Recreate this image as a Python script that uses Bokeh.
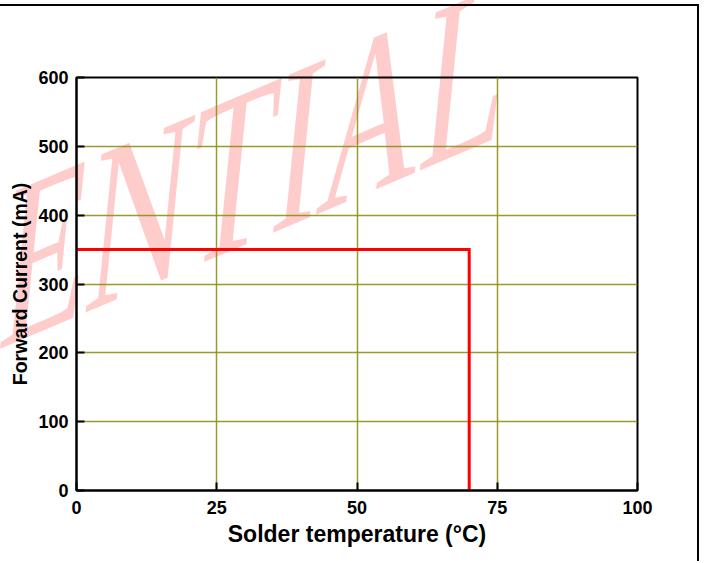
from bokeh.plotting import figure
from bokeh.models import Range1d, FixedTicker, Div
from bokeh.embed import file_html
from bokeh.resources import INLINE

# Data
solder_temp = [0, 70, 70]          # deg C
forward_current = [350, 350, 0]    # mA
x_ticks = [0, 25, 50, 75, 100]
y_ticks = [0, 100, 200, 300, 400, 500, 600]
watermark = "CONFIDENTIAL"

FONT = "Liberation Sans"

p = figure(width=699, height=557, output_backend="svg", toolbar_location=None,
           x_range=Range1d(0, 100), y_range=Range1d(0, 600),
           x_axis_label="Solder temperature (°C)",
           y_axis_label="Forward Current (mA)")

# outer frame of the page: top and right rule
p.styles = {"margin-top": "4px", "border-top": "2px solid black",
            "border-right": "2px solid black", "position": "relative"}

p.min_border_left = 76
p.min_border_right = 62
p.min_border_top = 71
p.min_border_bottom = 73
p.border_fill_color = None
p.background_fill_color = None
p.outline_line_color = "black"
p.outline_line_width = 2

# watermark (stretched serif lettering, rising to the right), behind the chart
wm = Div(text=watermark, styles={
    "position": "absolute", "left": "-505px", "top": "364px", "z-index": "-1",
    "font-family": "Liberation Serif", "font-size": "140px", "line-height": "1",
    "white-space": "nowrap", "color": "rgba(255,0,0,0.2)",
    "transform-origin": "0 0",
    "transform": "skewY(-23deg) skewX(-6deg) scaleY(1.65)",
    "pointer-events": "none"})
p.elements = [wm]

for ax in (p.xaxis, p.yaxis):
    ax.axis_line_color = "black"
    ax.axis_line_width = 2
    ax.major_tick_in = 8
    ax.major_tick_out = 0
    ax.major_tick_line_color = "black"
    ax.major_tick_line_width = 2
    ax.minor_tick_line_color = None
    ax.major_label_text_font = FONT
    ax.major_label_text_font_style = "bold"
    ax.major_label_text_font_size = "18px"
    ax.major_label_text_color = "black"
    ax.axis_label_text_font = FONT
    ax.axis_label_text_font_style = "bold"
    ax.axis_label_text_color = "black"

p.xaxis.ticker = FixedTicker(ticks=x_ticks)
p.yaxis.ticker = FixedTicker(ticks=y_ticks)
p.xaxis.major_label_standoff = 10
p.yaxis.major_label_standoff = 8
p.xaxis.axis_label_text_font_size = "23px"
p.yaxis.axis_label_text_font_size = "19.5px"
p.xaxis.axis_label_standoff = 4
p.yaxis.axis_label_standoff = 4

p.grid.grid_line_color = "#8f8f1a"
p.grid.grid_line_width = 1.5
p.grid.grid_line_alpha = 0.9
p.xgrid.ticker = FixedTicker(ticks=x_ticks)
p.ygrid.ticker = FixedTicker(ticks=y_ticks)

p.line(solder_temp, forward_current, line_color="#ff0000", line_width=3, line_join="miter")

open("out.html", "w").write(file_html(p, INLINE))
